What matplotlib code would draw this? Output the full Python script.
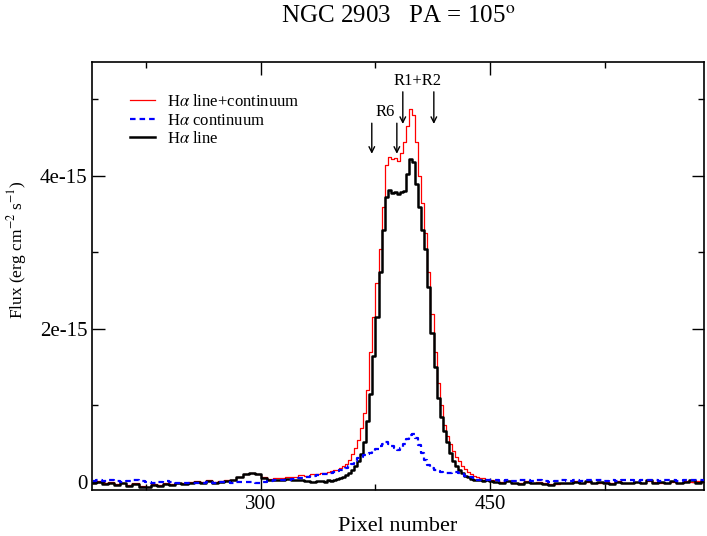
import numpy as np
import matplotlib
matplotlib.use("Agg")
import matplotlib.pyplot as plt
from matplotlib.ticker import FixedLocator, FixedFormatter, MultipleLocator

plt.rcParams['font.family'] = ['Liberation Serif', 'DejaVu Serif']
plt.rcParams['mathtext.fontset'] = 'stix'

# ---------------- data (flux in units of 1e-15 erg cm^-2 s^-1) ----------------
pix_left = list(range(190, 339, 4))
pix_peak = list(range(340, 451, 2))
pix_right = list(range(454, 591, 4))
pixel = np.array(pix_left + pix_peak + pix_right, dtype=float)

line_cont_left = [-0.01, 0.01, -0.02, 0.0, -0.03, -0.02, -0.04, -0.02, -0.05, -0.06,
                  -0.03, -0.04, -0.02, -0.03, -0.02, -0.02, 0.0, 0.01, 0.0, 0.02,
                  0.0, 0.01, 0.02, 0.03, 0.07, 0.10, 0.12, 0.10, 0.06, 0.04,
                  0.05, 0.05, 0.07, 0.07, 0.09, 0.08, 0.10, 0.11]
line_cont_peak = [0.12, 0.12, 0.13, 0.14, 0.15, 0.16, 0.18, 0.21, 0.24, 0.29,
                  0.36, 0.45, 0.55, 0.70, 0.90, 1.20, 1.70, 2.15, 2.60, 3.05,
                  3.60, 4.15, 4.25, 4.22, 4.24, 4.20, 4.30, 4.45, 4.65, 4.87,
                  4.80, 4.45, 4.00, 3.65, 3.25, 2.75, 2.20, 1.70, 1.30, 1.00,
                  0.75, 0.60, 0.50, 0.41, 0.33, 0.27, 0.21, 0.17, 0.13, 0.11,
                  0.08, 0.07, 0.05, 0.05, 0.03, 0.03]
line_cont_right = [0.02, 0.0, 0.01, -0.01, -0.02, 0.01, -0.01, 0.0, -0.02, -0.03,
                   -0.03, -0.01, -0.02, 0.01, -0.01, 0.0, -0.02, -0.01, 0.0, -0.02,
                   0.01, -0.01, -0.01, 0.0, -0.02, 0.01, 0.0, -0.01, -0.01, 0.0,
                   -0.02, 0.01, 0.0, 0.01, 0.0]

cont_left = [0.01, 0.02, 0.01, 0.02, 0.01, 0.0, 0.01, 0.02, 0.01, 0.0,
             -0.01, 0.0, 0.01, 0.0, -0.01, -0.02, -0.01, -0.02, -0.01, 0.0,
             -0.01, 0.0, 0.0, -0.01, 0.0, 0.0, 0.0, -0.01, 0.0, 0.01,
             0.02, 0.02, 0.03, 0.04, 0.05, 0.06, 0.08, 0.09]
cont_peak = [0.10, 0.11, 0.11, 0.12, 0.13, 0.14, 0.15, 0.16, 0.18, 0.21,
             0.24, 0.28, 0.31, 0.33, 0.35, 0.36, 0.38, 0.40, 0.43, 0.47,
             0.50, 0.52, 0.50, 0.47, 0.44, 0.42, 0.45, 0.50, 0.56, 0.62,
             0.63, 0.57, 0.48, 0.38, 0.29, 0.22, 0.18, 0.16, 0.14, 0.13,
             0.12, 0.12, 0.12, 0.13, 0.13, 0.12, 0.10, 0.08, 0.07, 0.06,
             0.04, 0.03, 0.03, 0.02, 0.02, 0.02]
cont_right = [0.02, 0.01, 0.02, 0.01, 0.02, 0.03, 0.01, 0.02, 0.01, 0.0,
              0.01, 0.02, 0.01, 0.02, 0.01, 0.02, 0.03, 0.02, 0.01, 0.02,
              0.01, 0.02, 0.02, 0.01, 0.02, 0.03, 0.02, 0.01, 0.02, 0.02,
              0.01, 0.02, 0.03, 0.02, 0.02]

line_left = [-0.02, 0.0, -0.03, -0.01, -0.04, -0.02, -0.05, -0.03, -0.06, -0.07,
             -0.04, -0.05, -0.03, -0.04, -0.02, -0.03, -0.01, 0.0, -0.01, 0.01,
             -0.02, 0.0, 0.01, 0.02, 0.06, 0.10, 0.12, 0.10, 0.05, 0.02,
             0.03, 0.02, 0.04, 0.02, 0.03, 0.01, 0.0, 0.01]
line_peak = [0.01, 0.00, 0.02, 0.01, 0.03, 0.04, 0.05, 0.07, 0.09, 0.12,
             0.16, 0.21, 0.27, 0.37, 0.52, 0.80, 1.15, 1.65, 2.15, 2.75,
             3.30, 3.72, 3.82, 3.78, 3.79, 3.77, 3.79, 3.80, 4.02, 4.22,
             4.18, 3.90, 3.60, 3.30, 3.05, 2.55, 1.95, 1.50, 1.10, 0.85,
             0.66, 0.52, 0.38, 0.28, 0.21, 0.16, 0.12, 0.08, 0.06, 0.04,
             0.03, 0.02, 0.03, 0.01, 0.02, 0.01]
line_right = [0.0, -0.02, 0.01, -0.01, -0.03, 0.0, -0.02, -0.01, -0.03, -0.04,
              -0.02, -0.01, -0.02, 0.0, -0.01, 0.01, -0.02, 0.0, -0.01, -0.03,
              0.0, -0.01, -0.02, 0.0, -0.01, 0.02, -0.01, 0.0, -0.02, 0.01,
              -0.01, 0.0, 0.02, -0.01, 0.01]

flux_line_cont = np.array(line_cont_left + line_cont_peak + line_cont_right) * 1e-15
flux_cont = np.array(cont_left + cont_peak + cont_right) * 1e-15
flux_line = np.array(line_left + line_peak + line_right) * 1e-15

series_labels = [r"H$\alpha$ line+continuum", r"H$\alpha$ continuum", r"H$\alpha$ line"]

# region markers: (pixel, top flux, bottom flux)
arrow_pix = [372.6, 389.0, 392.9, 413.2]
arrow_top = [4.69e-15, 4.69e-15, 5.10e-15, 5.10e-15]
arrow_bot = [4.29e-15, 4.29e-15, 4.68e-15, 4.68e-15]
region_labels = ["R6", "R1+R2"]
region_label_pix = [381.6, 402.7]
region_label_flux = [4.84e-15, 5.24e-15]

xticks_major = [300, 450]
yticks_major = [0, 2e-15, 4e-15]
ytick_labels = ["0", "2e-15", "4e-15"]

# ---------------- figure ----------------
fig = plt.figure(figsize=(7.07, 5.36), dpi=100)
ax = fig.add_axes([92/707, 1 - 490/536, 612/707, 428/536])

ax.step(pixel, flux_line_cont, where='mid', color='#ff0000', lw=0.9,
        label=series_labels[0], zorder=2)
ax.step(pixel, flux_line, where='mid', color='black', lw=1.8,
        label=series_labels[2], zorder=3)
ax.step(pixel, flux_cont, where='mid', color='#0000ff', lw=1.6,
        dashes=(2.5, 1.8), label=series_labels[1], zorder=4)

for p, t, b in zip(arrow_pix, arrow_top, arrow_bot):
    ax.annotate("", xy=(p, b), xytext=(p, t),
                arrowprops=dict(arrowstyle='->', color='black', lw=1.0,
                                shrinkA=0, shrinkB=0, mutation_scale=10))
for lab, p, f in zip(region_labels, region_label_pix, region_label_flux):
    ax.text(p, f, lab, ha='center', va='center', fontsize=12)

ax.set_xlim(189.5, 590)
ax.set_ylim(-0.105e-15, 5.49e-15)

ax.xaxis.set_major_locator(FixedLocator(xticks_major))
ax.xaxis.set_minor_locator(MultipleLocator(75))
ax.yaxis.set_major_locator(FixedLocator(yticks_major))
ax.yaxis.set_major_formatter(FixedFormatter(ytick_labels))
ax.yaxis.set_minor_locator(MultipleLocator(1e-15))

ax.tick_params(which='both', direction='in', top=True, right=True,
               labelsize=15, width=1.0)
ax.tick_params(which='major', length=9)
ax.tick_params(which='minor', length=4.5)
for s in ax.spines.values():
    s.set_linewidth(1.2)

ax.set_xlabel("Pixel number", fontsize=16, labelpad=2)
fig.text(17/707, 1 - 250/536, r"Flux (erg cm$^{-2}$ s$^{-1}$)",
         rotation=90, ha='center', va='center', fontsize=12.5)
fig.text(398/707, 1 - 17/536, r"NGC 2903   PA = 105$^{\rm o}$",
         ha='center', va='center', fontsize=18)

handles, labels = ax.get_legend_handles_labels()
order = [0, 2, 1]
leg = ax.legend([handles[i] for i in order], [labels[i] for i in order],
                loc='upper left', bbox_to_anchor=(0.062, 0.925),
                frameon=False, fontsize=12, handlelength=1.5,
                handletextpad=0.7, labelspacing=0.15, borderpad=0,
                borderaxespad=0)

fig.savefig("out.png", dpi=100)
